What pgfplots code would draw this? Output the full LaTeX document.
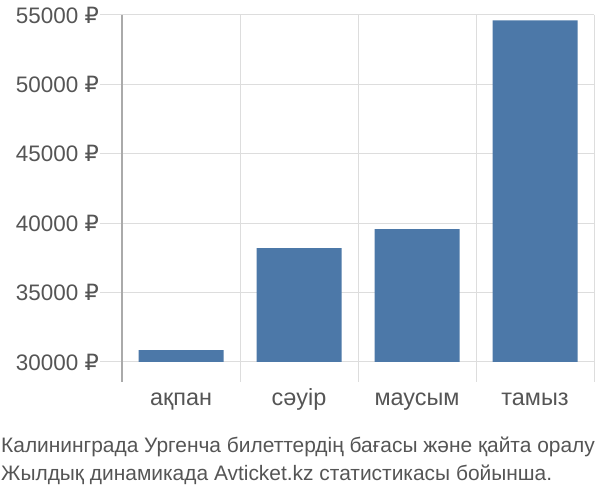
\documentclass[border=0pt]{standalone}
\usepackage{pgfplots}
\pgfplotsset{compat=1.18}
\usepackage{fontspec}
\setmainfont{Liberation Sans}
\newfontfamily\rub{DejaVu Sans}
\definecolor{barblue}{HTML}{4C78A8}
\definecolor{gridgray}{HTML}{DDDDDD}
\definecolor{axisgray}{HTML}{AAAAAA}
\definecolor{txtgray}{HTML}{555555}
\newcommand{\R}{{\rub ₽}}
\begin{document}
\begin{tikzpicture}[x=1bp,y=1bp]
\path[use as bounding box] (0,0) rectangle (600,500);
\begin{axis}[
    at={(122bp,138bp)}, anchor=south west,
    scale only axis, width=472bp, height=347bp,
    xmin=-0.5, xmax=3.5, ymin=30000, ymax=55000,
    axis line style={draw=none},
    xtick={0,1,2,3},
    xticklabels={ақпан, сәуір, маусым, тамыз},
    minor xtick={0.5,1.5,2.5},
    xminorgrids,
    minor x grid style={draw=gridgray, line width=1pt},
    ytick={30000,35000,40000,45000,50000,55000},
    yticklabels={30000 \R,35000 \R,40000 \R,45000 \R,50000 \R,55000 \R},
    ymajorgrids,
    major y grid style={draw=gridgray, line width=1pt},
    tick align=outside,
    tick pos=left,
    major tick length=22bp,
    minor tick length=20bp,
    ytick style={draw=gridgray, line width=1pt},
    major x tick style={draw=none},
    minor x tick style={draw=gridgray, line width=1pt},
    yticklabel style={font=\fontsize{22.5}{24}\selectfont, text=txtgray, inner sep=1bp},
    xticklabel style={font=\fontsize{23.5}{24}\selectfont, text=txtgray,
        text height=17bp, text depth=5bp, inner sep=0pt, yshift=-4bp},
    scaled y ticks=false,
    clip=false,
]
\addplot[ybar, bar width=85bp, fill=barblue, draw=none, forget plot]
    coordinates {(0,30860) (1,38210) (2,39580) (3,54620)};
\draw[gridgray, line width=1pt] (axis cs:3.5,55000) -- (axis cs:3.5,28560);
\draw[axisgray, line width=1.2pt] (axis cs:-0.5,55000) -- (axis cs:-0.5,28560);
\end{axis}
\node[anchor=base west, inner sep=0, text=txtgray, font=\fontsize{21}{24}\selectfont] at (1,47)
    {Калининграда Ургенча билеттердің бағасы және қайта оралу};
\node[anchor=base west, inner sep=0, text=txtgray, font=\fontsize{21}{24}\selectfont] at (1,19)
    {Жылдық динамикада Avticket.kz статистикасы бойынша.};
\end{tikzpicture}
\end{document}
